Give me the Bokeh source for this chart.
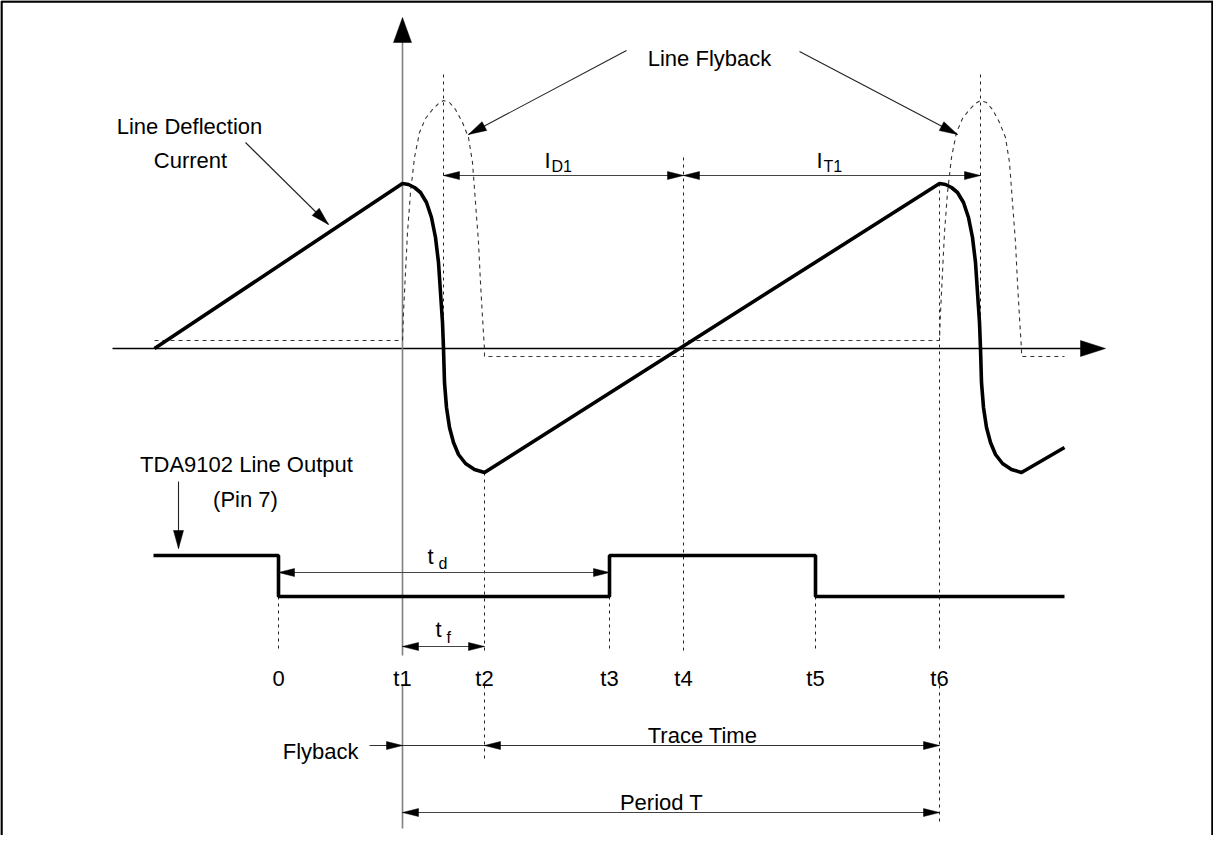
import math
from bokeh.plotting import figure
from bokeh.models import Range1d
from bokeh.embed import file_html
from bokeh.resources import INLINE
from bokeh.core.properties import value

# ---------------- data (drawing coordinates, px of the original sheet) ----------------
TIME_LABELS = ["0", "t1", "t2", "t3", "t4", "t5", "t6"]
TIME_X = [286, 410, 492, 617, 691, 823, 947]
T1, T2, T4, T6 = 410, 492, 691, 947
PERIOD = 537                     # t6 - t1

AXIS_Y = 356                     # zero line of the deflection current
AXIS_X_START, AXIS_X_TIP = 120, 1113
VAXIS_TOP, VAXIS_BOTTOM = 25, 836

# Line deflection current (thick)
SAW_START = (162, 356)
SAW_END = (1072, 455)
FLY_DX = [0, 6, 12, 18, 24, 29, 33, 36, 38, 40, 41, 42, 44, 47, 51, 56, 63, 72, 82]
FLY_Y = [191, 192, 195, 200, 210, 225, 245, 270, 300, 330, 356, 390, 415, 435, 450, 462, 471, 477, 480]

# Flyback voltage pulse (dashed)
PULSE_DX = [0, 1, 2, 4, 5, 8, 12, 17, 23, 30, 36, 41, 47, 53, 60, 66, 70, 73, 76, 78, 80, 82, 82]
PULSE_Y = [348, 320, 300, 260, 240, 200, 165, 140, 126, 117, 111, 108, 110, 117, 130, 145, 170, 210, 250, 290, 325, 357, 364]
PULSE_HIGH, PULSE_LOW = 348, 364
PULSE_START_X, PULSE_END_X = 162, 1072
PULSE_PEAK_DX = 41

# TDA9102 line output (pin 7) square wave
SQ_X = [161, 286, 286, 617, 617, 823, 823, 1072]
SQ_Y = [563, 563, 604, 604, 563, 563, 604, 604]

# ---------------- figure ----------------
W, H = 1213, 835
p = figure(width=W, height=H, output_backend="svg", toolbar_location=None,
           x_range=Range1d(8, 8 + W), y_range=Range1d(8 + H, 8),
           x_axis_location=None, y_axis_location=None, min_border=0)
p.grid.visible = False
p.outline_line_color = None
p.background_fill_color = "white"
p.border_fill_color = "white"

FONT = value("Liberation Sans")
heads_x, heads_y = [], []


def head(tx, ty, fx, fy, L=16, Wd=4):
    dx, dy = tx - fx, ty - fy
    n = math.hypot(dx, dy)
    ux, uy = dx / n, dy / n
    bx, by = tx - L * ux, ty - L * uy
    heads_x.append([tx, bx - Wd * uy, bx + Wd * uy])
    heads_y.append([ty, by + Wd * ux, by - Wd * ux])


# border (bottom edge is cut off in the original)
p.line([9, 9, 1220, 1220], [845, 9, 9, 845], color="black", line_width=2.5)

# axes
p.line([AXIS_X_START, AXIS_X_TIP - 20], [AXIS_Y, AXIS_Y], color="black", line_width=1.4)
head(AXIS_X_TIP, AXIS_Y, 0, AXIS_Y, L=25, Wd=8)
lab_gap = (663, 693)
p.multi_line([[T1, T1], [T1, T1]], [[VAXIS_TOP + 20, lab_gap[0]], [lab_gap[1], VAXIS_BOTTOM]],
             color="#808080", line_width=1.6)
head(T1, VAXIS_TOP, T1, 500, L=25, Wd=9)

# dotted time markers
dot_x = [[286, 286], [T2, T2], [T2, T2], [617, 617], [T4, T4], [823, 823], [T6, T6], [T6, T6],
         [T1 + PULSE_PEAK_DX] * 2, [T6 + PULSE_PEAK_DX] * 2]
dot_y = [[604, 657], [480, 660], [693, 768], [604, 657], [165, 658], [604, 657], [191, 660], [693, 832],
         [82, 356], [82, 356]]
p.multi_line(dot_x, dot_y, color="#222222", line_width=1, line_dash="3 4")

# flyback pulse (dashed)
px = [PULSE_START_X] + [T1 + d for d in PULSE_DX] + [T4, T4] + [T6 + d for d in PULSE_DX] + [PULSE_END_X]
py = [PULSE_HIGH] + PULSE_Y + [PULSE_LOW, PULSE_HIGH] + PULSE_Y + [PULSE_LOW]
p.line(px, py, color="#333333", line_width=1.1, line_dash="4 4")

# deflection current
sx = [SAW_START[0]] + [T1 + d for d in FLY_DX] + [T6 + d for d in FLY_DX] + [SAW_END[0]]
sy = [SAW_START[1]] + FLY_Y + FLY_Y + [SAW_END[1]]
p.line(sx, sy, color="black", line_width=3.6, line_join="round")

# square wave
p.line(SQ_X, SQ_Y, color="black", line_width=3.6)

# dimension arrows
dims = [  # (x0, x1, y, head at x0, head at x1)
    (T1 + PULSE_PEAK_DX, T4, 183),
    (T4, T6 + PULSE_PEAK_DX, 183),
    (286, 617, 580),
    (T1, T2, 654),
    (T1, T6, 820),
]
for x0, x1, y in dims:
    p.line([x0, x1], [y, y], color="#444444", line_width=1.2)
    head(x0, y, x1, y)
    head(x1, y, x0, y)

# flyback / trace time line
p.line([377, T6], [753, 753], color="#333333", line_width=1.2)
head(T1, 753, 0, 753)
head(T2, 753, 2000, 753)
head(T6, 753, 0, 753)

# annotation pointers
pointers = [((253, 150), (336, 232)), ((634, 58), (476, 142)), ((807, 59), (965, 142)), ((186, 489), (186, 556))]
for (fx, fy), (tx, ty) in pointers:
    p.line([fx, tx], [fy, ty], color="#222222", line_width=1.1)
    head(tx, ty, fx, fy, L=18, Wd=5)

p.patches(heads_x, heads_y, fill_color="black", line_color="black", line_width=0.5)

# texts
def txt(s, x, y, align="center", size="22px"):
    p.text([x], [y], text=[s], text_font=FONT, text_font_size=size, text_align=align,
           text_baseline="alphabetic", text_color="black")

txt("Line Deflection", 197, 134)
txt("Current", 198, 168)
txt("Line Flyback", 717, 66)
txt("TDA9102 Line Output", 254, 472)
txt("(Pin 7)", 253, 507)
txt("I", 555, 168)
txt("D1", 559, 174, "left", "16px")
txt("I", 827, 168)
txt("T1", 831, 174, "left", "16px")
txt("t", 438, 564)
txt("d", 446, 571, "left", "16px")
txt("t", 446, 637)
txt("f", 454, 645, "left", "16px")
for lab, x in zip(TIME_LABELS, TIME_X):
    txt(lab, x, 686)
txt("Flyback", 366, 759, "right")
txt("Trace Time", 710, 743)
txt("Period T", 669, 810)

open("out.html", "w").write(file_html(p, INLINE))
